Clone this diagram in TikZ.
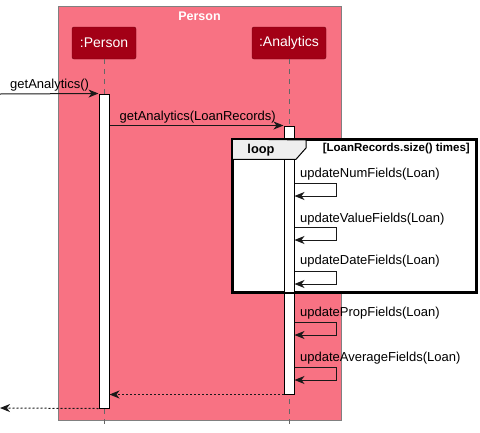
\documentclass[tikz,border=0pt]{standalone}
\usepackage{pgf}
\usepackage{tikz}
\usetikzlibrary{arrows.meta}
\usepackage{fontspec}
\setmainfont{Liberation Sans}
\definecolor{boxpink}{RGB}{248,114,131}
\definecolor{partred}{RGB}{163,0,22}
\definecolor{tabgray}{RGB}{238,238,238}

\begin{document}
\begin{tikzpicture}[x=1pt,y=-1pt]
            \tikzstyle{participant}=[rectangle,rounded corners=2pt,fill=partred,draw=partred!70!black,text=white,font=\fontsize{14}{16}\selectfont,minimum height=32pt,inner sep=0pt]
            \tikzstyle{activation}=[rectangle,draw=black,line width=1pt,fill=white,minimum width=10pt,inner sep=0pt]
            \tikzstyle{lifeline}=[draw=gray!80!black,line width=0.8pt,dash pattern=on 5pt off 5pt]
            \tikzstyle{msg}=[draw=black!90,line width=1pt,-{Stealth[length=10pt,width=8pt,inset=3pt]}]
            \tikzstyle{ret}=[msg,dash pattern=on 2pt off 2pt]
            \tikzstyle{msglabel}=[font=\fontsize{13}{15}\selectfont,inner sep=0pt,anchor=west]
            \useasboundingbox (0,0) rectangle (480,432);
            \filldraw[fill=boxpink,draw=gray,line width=1pt] (58,6) rectangle (341,420);
            \node[text=white,font=\bfseries\fontsize{12.5}{14}\selectfont] (grouptitle) at (199.5,16) {Person};
            \node[participant,minimum width=64pt] (person) at (104,43) {:Person};
            \node[participant,minimum width=74pt] (analytics) at (289,43) {:Analytics};
            \coordinate (personend) at (104,425);
            \coordinate (analyticsend) at (289,425);
            \draw[lifeline] (person.south) -- (personend);
            \draw[lifeline] (analytics.south) -- (analyticsend);
            \node[activation,minimum height=314pt] (actp) at (104,251) {};
            \node[draw=black,line width=2pt,fill=white,minimum width=243pt,minimum height=152pt,inner sep=0pt] (loopbox) at (354.5,216) {};
            \node[activation,minimum height=268pt] (acta) at (289,260) {};
            \filldraw[fill=tabgray,draw=black,line width=1pt] (loopbox.north west) -- (306,140) -- (306,148) -- (296,159.3) -- (loopbox.west |- 0,159.3);
            \draw[line width=2pt] (loopbox.north west) rectangle (loopbox.south east);
            \node[font=\bfseries\fontsize{12.8}{14}\selectfont,inner sep=0pt] (looplabel) at (261,150) {loop};
            \node[font=\bfseries\fontsize{11.5}{13}\selectfont,inner sep=0pt,anchor=east] (loopguard) at (470,149) {[LoanRecords.size() times]};
            \coordinate (start) at (0,94);
            \coordinate (stop) at (0,408);
            \draw[msg] (start) -- (actp.north west);
            \node[msglabel] (call) at (10,85) {getAnalytics()};
            \draw[msg] (actp.east |- acta.north) -- (acta.north west);
            \node[msglabel] (callana) at (119.5,117) {getAnalytics(LoanRecords)};
            \draw[msg] (acta.east |- 0,183.3) -- (336.7,183.3) |- (acta.east |- 0,196);
            \node[msglabel] (num) at (300,174) {updateNumFields(Loan)};
            \draw[msg] (acta.east |- 0,227.7) -- (336.7,227.7) |- (acta.east |- 0,240);
            \node[msglabel] (value) at (300,219) {updateValueFields(Loan)};
            \draw[msg] (acta.east |- 0,271.7) -- (336.7,271.7) |- (acta.east |- 0,284);
            \node[msglabel] (date) at (300,261) {updateDateFields(Loan)};
            \draw[msg] (acta.east |- 0,322.3) -- (336.7,322.3) |- (acta.east |- 0,335);
            \node[msglabel] (prop) at (300,313) {updatePropFields(Loan)};
            \draw[msg] (acta.east |- 0,367.7) -- (336.7,367.7) |- (acta.east |- 0,380);
            \node[msglabel] (average) at (300,357.7) {updateAverageFields(Loan)};
            \draw[ret] (acta.south west) -- (actp.east |- acta.south west);
            \draw[ret] (actp.south west) -- (stop);
        \end{tikzpicture}
\end{document}
